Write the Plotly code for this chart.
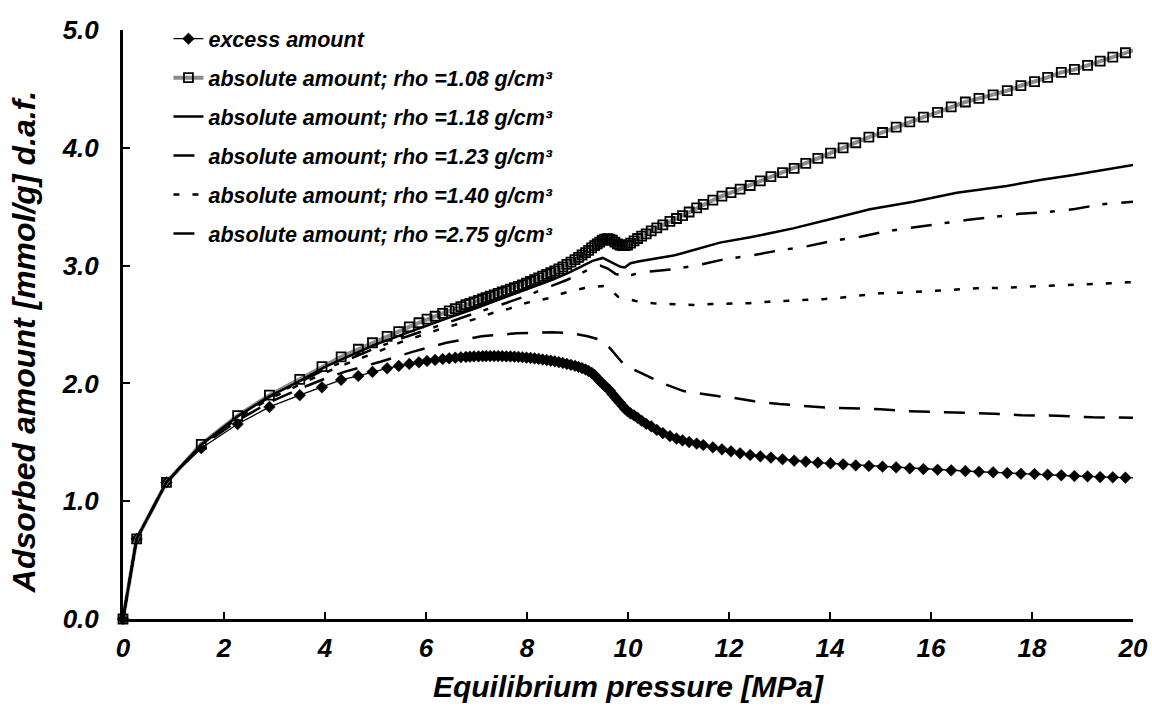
import plotly.graph_objects as go

# ---- shared pressure grid for the marker series [MPa] ----
p_meas = [0, 0.27, 0.86, 1.55, 2.27, 2.9, 3.5, 3.94, 4.32, 4.66, 4.94, 5.23, 5.46, 5.67, 5.86,
          6.02, 6.18, 6.33, 6.46, 6.58, 6.69, 6.79, 6.87, 6.95, 7.04, 7.12, 7.19,
          7.27, 7.35, 7.43, 7.51, 7.59, 7.67, 7.75, 7.83, 7.91, 7.99, 8.07, 8.15, 8.23, 8.31,
          8.39, 8.47, 8.55, 8.63, 8.71, 8.79, 8.87, 8.95,
          9.02, 9.09, 9.16, 9.22, 9.28, 9.34,
          9.39, 9.44, 9.49, 9.54, 9.59, 9.64, 9.69, 9.74, 9.79, 9.84, 9.89, 9.94, 9.99,
          10.05, 10.12, 10.19, 10.27, 10.36, 10.46, 10.57,
          10.69, 10.83, 10.96, 11.08, 11.21, 11.36,
          11.49, 11.68, 11.86, 12.04, 12.22, 12.42, 12.62, 12.83, 13.06, 13.29, 13.52, 13.76,
          14.01, 14.26, 14.51, 14.77, 15.04, 15.31, 15.58, 15.85, 16.13, 16.40, 16.68, 16.95,
          17.23, 17.51, 17.78, 18.05, 18.31, 18.58, 18.84, 19.10, 19.35, 19.60, 19.85, 20.1]

excess = [0, 0.68, 1.16, 1.45, 1.655, 1.80, 1.90, 1.967, 2.03, 2.063, 2.097, 2.128, 2.148, 2.165, 2.179,
          2.19, 2.199, 2.207, 2.213, 2.218, 2.222, 2.225, 2.227, 2.229, 2.230, 2.231, 2.232,
          2.232, 2.232, 2.232, 2.231, 2.230, 2.229, 2.227, 2.225, 2.222, 2.219, 2.216, 2.212, 2.208, 2.203,
          2.198, 2.193, 2.187, 2.180, 2.173, 2.165, 2.158, 2.15,
          2.14, 2.13, 2.118, 2.105, 2.09, 2.07,
          2.045, 2.02, 2.00, 1.98, 1.96, 1.94, 1.91, 1.885, 1.86, 1.835, 1.81, 1.785, 1.765,
          1.745, 1.728, 1.708, 1.683, 1.657, 1.635, 1.605,
          1.578, 1.552, 1.532, 1.516, 1.502, 1.489,
          1.477, 1.457, 1.440, 1.423, 1.406, 1.392, 1.381, 1.370, 1.356, 1.344, 1.336, 1.327,
          1.321, 1.313, 1.304, 1.299, 1.293, 1.287, 1.279, 1.273, 1.267, 1.262, 1.256, 1.250,
          1.245, 1.239, 1.233, 1.231, 1.225, 1.220, 1.214, 1.211, 1.205, 1.203, 1.200, 1.198]

abs_108 = [0, 0.68, 1.16, 1.483, 1.726, 1.90, 2.035, 2.142, 2.225, 2.29, 2.345, 2.40, 2.44, 2.48, 2.515,
           2.545, 2.57, 2.595, 2.615, 2.635, 2.652, 2.668, 2.68, 2.692, 2.705, 2.717, 2.728,
           2.74, 2.752, 2.764, 2.776, 2.788, 2.80, 2.812, 2.824, 2.837, 2.85, 2.865, 2.88, 2.895, 2.91,
           2.925, 2.94, 2.956, 2.972, 2.99, 3.01, 3.03, 3.05,
           3.07, 3.09, 3.11, 3.13, 3.15, 3.17,
           3.185, 3.20, 3.215, 3.225, 3.228, 3.225, 3.215, 3.20, 3.185, 3.175, 3.17, 3.17, 3.175,
           3.19, 3.21, 3.23, 3.25, 3.27, 3.295, 3.32,
           3.345, 3.375, 3.40, 3.425, 3.455, 3.49,
           3.52, 3.555, 3.59, 3.62, 3.65, 3.68, 3.72, 3.755, 3.79, 3.826, 3.868, 3.91,
           3.955, 4.00, 4.043, 4.09, 4.13, 4.175, 4.22, 4.26, 4.30, 4.348, 4.389, 4.42,
           4.45, 4.485, 4.527, 4.561, 4.598, 4.64, 4.665, 4.70, 4.735, 4.77, 4.807, 4.84]

# ---- line-only series (own pressure grids) ----
p_118 = [0, 0.27, 0.86, 1.55, 2.27, 2.9, 3.5, 4.0, 4.5, 5.0, 5.5, 6.0, 6.5, 7.0, 7.5, 8.0, 8.5,
         8.8, 9.1, 9.3, 9.5, 9.7, 9.85, 9.94, 10.05, 10.2, 10.44, 10.9, 11.16, 11.43, 11.82,
         12.42, 13.27, 14.0, 14.79, 15.65, 16.51, 17.5, 18.16, 18.82, 19.48, 20.1]
abs_118 = [0, 0.68, 1.16, 1.48, 1.72, 1.89, 2.02, 2.14, 2.235, 2.33, 2.41, 2.49, 2.565, 2.64, 2.72,
           2.80, 2.88, 2.935, 3.0, 3.04, 3.065, 3.02, 2.99, 2.985, 3.02, 3.035, 3.05, 3.085, 3.115,
           3.15, 3.195, 3.24, 3.316, 3.393, 3.478, 3.542, 3.619, 3.676, 3.727, 3.77, 3.817, 3.862]

p_123 = [0, 0.27, 0.86, 1.55, 2.27, 2.9, 3.5, 4.0, 4.5, 5.0, 5.5, 6.0, 6.5, 7.0, 7.5, 8.0, 8.5,
         8.8, 9.05, 9.3, 9.45, 9.6, 9.75, 9.97, 10.15, 10.44, 10.9, 11.4, 11.9, 12.5, 13.0,
         13.5, 14.06, 14.6, 15.1, 15.6, 16.2, 16.7, 17.2, 17.75, 18.3, 18.85, 19.36, 19.95, 20.1]
abs_123 = [0, 0.68, 1.16, 1.48, 1.715, 1.885, 2.01, 2.12, 2.21, 2.30, 2.38, 2.455, 2.53, 2.60, 2.67,
           2.745, 2.83, 2.88, 2.93, 2.985, 3.0, 2.975, 2.93, 2.905, 2.93, 2.95, 2.97, 3.005, 3.053,
           3.09, 3.13, 3.16, 3.21, 3.245, 3.29, 3.32, 3.36, 3.387, 3.41, 3.44, 3.455, 3.48, 3.52,
           3.54, 3.545]

p_140 = [0, 0.27, 0.86, 1.55, 2.27, 2.9, 3.5, 4.0, 4.5, 5.0, 5.5, 5.85, 6.2, 6.6, 7.0, 7.3, 7.65,
         8.0, 8.4, 8.75, 9.14, 9.5, 9.65, 9.8, 10.15, 10.5, 10.9, 11.3, 11.65, 12.05, 12.4, 12.8,
         13.15, 13.5, 13.9, 14.25, 14.65, 15.0, 15.4, 15.8, 16.15, 16.55, 16.9, 17.3, 17.65,
         18.05, 18.4, 18.8, 19.2, 19.55, 19.9, 20.1]
abs_140 = [0, 0.68, 1.16, 1.475, 1.705, 1.87, 1.99, 2.09, 2.18, 2.26, 2.35, 2.40, 2.45, 2.50, 2.55,
           2.595, 2.635, 2.685, 2.72, 2.77, 2.81, 2.827, 2.80, 2.736, 2.70, 2.68, 2.674, 2.665,
           2.674, 2.68, 2.68, 2.694, 2.70, 2.708, 2.716, 2.73, 2.75, 2.765, 2.77, 2.78, 2.79, 2.80,
           2.807, 2.81, 2.816, 2.82, 2.83, 2.835, 2.84, 2.85, 2.858, 2.862]

p_275 = [0, 0.27, 0.86, 1.55, 2.27, 2.9, 3.5, 4.0, 4.4, 5.1, 5.75, 6.4, 7.1, 7.8, 8.5, 8.9, 9.2,
         9.45, 9.6, 9.75, 9.9, 10.1, 10.5, 10.75, 11.1, 11.4, 11.8, 12.1, 12.5, 13.0, 13.5, 13.9,
         14.4, 15.0, 15.5, 16.0, 16.5, 17.1, 17.8, 18.5, 19.2, 19.7, 20.1]
abs_275 = [0, 0.68, 1.16, 1.465, 1.685, 1.84, 1.955, 2.04, 2.10, 2.184, 2.27, 2.345, 2.40, 2.425,
           2.434, 2.425, 2.40, 2.37, 2.32, 2.24, 2.17, 2.12, 2.04, 1.99, 1.935, 1.915, 1.89, 1.876,
           1.848, 1.825, 1.805, 1.795, 1.79, 1.78, 1.765, 1.76, 1.755, 1.745, 1.73, 1.726, 1.712,
           1.71, 1.708]

x_ticks = [0, 2, 4, 6, 8, 10, 12, 14, 16, 18, 20]
y_ticks = [0, 1, 2, 3, 4, 5]

names = ["excess amount",
         "absolute amount; rho =1.08 g/cm³",
         "absolute amount; rho =1.18 g/cm³",
         "absolute amount; rho =1.23 g/cm³",
         "absolute amount; rho =1.40 g/cm³",
         "absolute amount; rho =2.75 g/cm³"]
x_title = "Equilibrium pressure [MPa]"
y_title = "Adsorbed amount [mmol/g] d.a.f."

FONT = "Liberation Sans, Arial, Helvetica, sans-serif"

def hidden_last(n, size):
    return [size] * (n - 1) + [0]

fig = go.Figure()

fig.add_trace(go.Scatter(
    x=p_meas, y=excess, name=names[0], mode="lines+markers", legendgroup="g0",
    line=dict(color="black", width=1.3),
    marker=dict(symbol="diamond", size=hidden_last(len(p_meas), 9), color="black", opacity=1,
                line=dict(width=0.5, color="black")),
    cliponaxis=False))

fig.add_trace(go.Scatter(
    x=p_meas, y=abs_108, name=names[1], mode="lines+markers", legendgroup="g1",
    line=dict(color="#8c8c8c", width=4),
    marker=dict(symbol="square-open", size=hidden_last(len(p_meas), 9), color="black", opacity=1,
                line=dict(width=1.8, color="black")),
    cliponaxis=False))

fig.add_trace(go.Scatter(
    x=p_118, y=abs_118, name=names[2], mode="lines", legendgroup="g2",
    line=dict(color="black", width=2.5)))

fig.add_trace(go.Scatter(
    x=p_123, y=abs_123, name=names[3], mode="lines", legendgroup="g3",
    line=dict(color="black", width=2.5, dash="21px,13px,5px,14px")))

fig.add_trace(go.Scatter(
    x=p_140, y=abs_140, name=names[4], mode="lines", legendgroup="g4",
    line=dict(color="black", width=2.5, dash="6px,13px")))

fig.add_trace(go.Scatter(
    x=p_275, y=abs_275, name=names[5], mode="lines", legendgroup="g5",
    line=dict(color="black", width=2.5, dash="21px,14px")))

tick_font = dict(family=FONT, size=26, color="black", weight="bold", style="italic")
xtitle_font = dict(family=FONT, size=30, color="black", weight="bold", style="italic")
ytitle_font = dict(family=FONT, size=32, color="black", weight="bold", style="italic")

fig.update_layout(
    width=1152, height=710,
    margin=dict(l=123, r=19, t=30, b=91, autoexpand=False),
    paper_bgcolor="white", plot_bgcolor="white",
    showlegend=True,
    legend=dict(x=0.045, y=1.02, xanchor="left", yanchor="top",
                bgcolor="rgba(0,0,0,0)", tracegroupgap=8,
                font=dict(family=FONT, size=21.5, color="black", weight="bold", style="italic")),
    xaxis=dict(range=[0, 20], tickvals=x_ticks, ticktext=[str(v) for v in x_ticks],
               ticks="inside", ticklen=7, tickwidth=2, tickcolor="black", automargin=False,
               showline=True, linecolor="black", linewidth=3, showgrid=False, zeroline=False,
               tickfont=tick_font, ticklabelstandoff=4,
               title=dict(text=x_title, font=xtitle_font, standoff=14)),
    yaxis=dict(range=[0, 5], tickvals=y_ticks, ticktext=[f"{v:.1f}" for v in y_ticks],
               ticks="inside", ticklen=7, tickwidth=2, tickcolor="black", automargin=False,
               showline=True, linecolor="black", linewidth=3, showgrid=False, zeroline=False,
               tickfont=tick_font, ticklabelstandoff=16),
    annotations=[dict(text=y_title, textangle=-90, xref="paper", yref="paper",
                      x=-0.098, y=0.47, xanchor="center", yanchor="middle",
                      showarrow=False, font=ytitle_font)],
)

fig.write_html("out.html")
